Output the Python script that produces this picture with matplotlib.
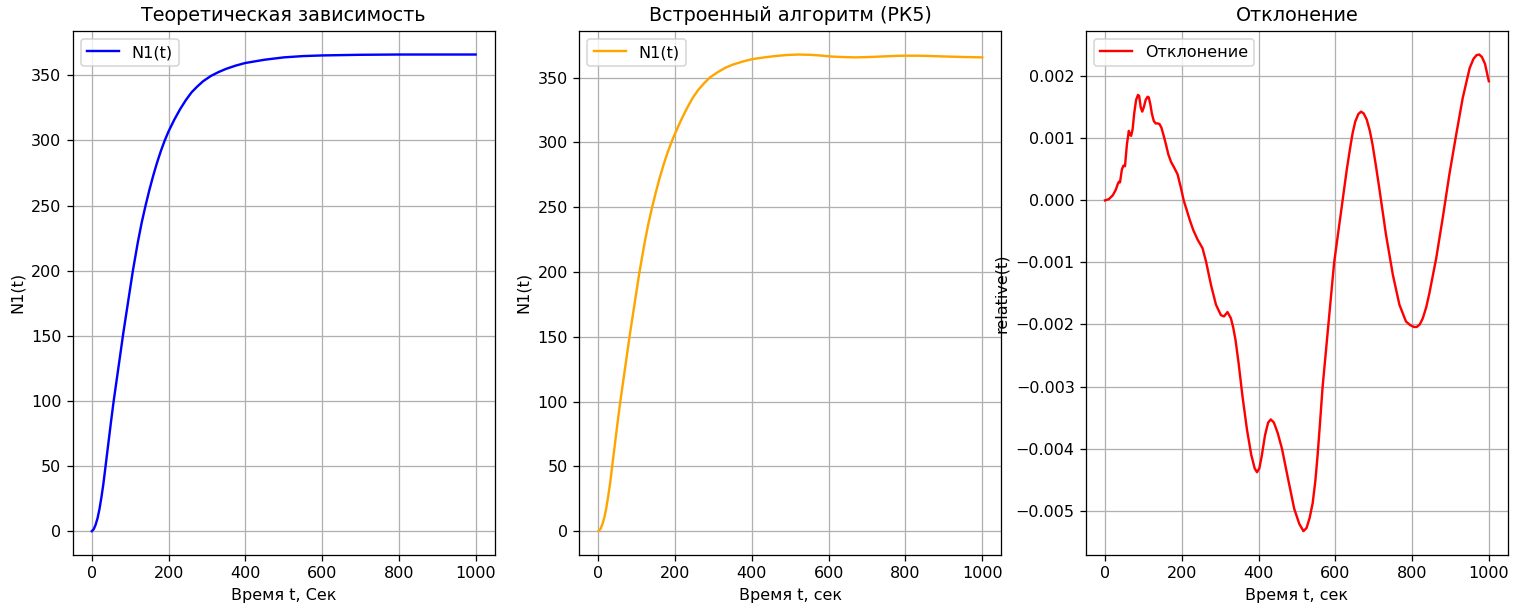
import matplotlib
matplotlib.use('Agg')
import matplotlib.pyplot as plt

# theoretical N1(t)
t_theory = [0, 5, 10, 15, 20, 25, 30, 35, 40, 45, 50, 57, 70, 82, 95, 107, 120, 130, 140,
            150, 160, 170, 180, 190, 200, 215, 230, 245, 260, 275, 290, 310, 330, 350, 375,
            400, 450, 500, 550, 600, 700, 800, 1000]
n_theory = [0, 1.5, 5, 10, 17, 26, 36, 48, 60, 72, 84, 100, 127, 152, 177, 200, 222, 237, 250,
            262, 273, 283, 292, 300, 307, 316, 324, 331, 337, 341.5, 345.5, 349.5, 352.5, 355,
            357.5, 359.5, 362, 363.8, 364.8, 365.3, 365.8, 366, 366]

# RK5 solution, middle panel
t_rk5 = [0, 5, 10, 15, 20, 25, 30, 35, 40, 45, 50, 57, 70, 82, 95, 107, 120, 130, 140, 150,
         160, 170, 180, 190, 200, 215, 230, 245, 260, 275, 290, 310, 330, 350, 375, 400, 430,
         460, 490, 520, 550, 580, 610, 640, 670, 700, 740, 770, 800, 830, 860, 900, 950, 1000]
n_rk5 = [0, 1.5, 5, 10, 17, 26, 36, 48, 60, 72, 84, 100, 127, 152, 177, 200, 222, 237, 250,
         262, 273, 283, 292, 300, 307, 317, 326, 334, 340.5, 345.5, 350, 354, 357.5, 360,
         362.3, 364.2, 365.5, 366.6, 367.4, 367.8, 367.6, 367, 366.2, 365.8, 365.6, 365.8,
         366.3, 366.7, 366.9, 366.9, 366.7, 366.3, 365.9, 365.6]

# relative deviation, right panel
t_dev = [0, 10, 20, 28, 33, 36, 39, 44, 48, 52, 57, 62, 65, 68, 72, 76, 81, 86, 89, 93, 97,
         101, 106, 111, 114, 118, 122, 127, 132, 137, 142, 147, 152, 158, 165, 172, 180, 189,
         197, 205, 213, 221, 230, 241, 254, 263, 276, 289, 302, 310, 319, 328, 334, 340, 348,
         358, 370, 381, 390, 396, 402, 408, 417, 425, 432, 440, 450, 461, 476, 493, 506, 517,
         525, 533, 541, 548, 554, 560, 567, 582, 597, 608, 619, 630, 638, 645, 652, 660, 667,
         674, 682, 690, 697, 706, 715, 732, 750, 767, 784, 795, 805, 812, 820, 828, 837, 845,
         863, 880, 897, 915, 932, 950, 960, 968, 975, 982, 990, 1000]
v_dev = [0, 0.00002, 0.00008, 0.00017, 0.00026, 0.00030, 0.00029, 0.00050, 0.00056, 0.00055,
         0.00090, 0.00112, 0.00106, 0.00104, 0.00115, 0.00140, 0.00162, 0.00170, 0.00168,
         0.00150, 0.00143, 0.00150, 0.00162, 0.00167, 0.00166, 0.00155, 0.00140, 0.00128,
         0.00124, 0.00124, 0.00123, 0.00117, 0.00106, 0.00092, 0.00074, 0.00062, 0.00053,
         0.00042, 0.00022, 0.00000, -0.00016, -0.00032, -0.00048, -0.00063, -0.00077,
         -0.00098, -0.00136, -0.00168, -0.00185, -0.00187, -0.00180, -0.00190, -0.00205,
         -0.00225, -0.00262, -0.00315, -0.00370, -0.00410, -0.00432, -0.00438, -0.00432,
         -0.00413, -0.00378, -0.00358, -0.00353, -0.00358, -0.00375, -0.00400, -0.00446,
         -0.00497, -0.00521, -0.00533, -0.00528, -0.00512, -0.00488, -0.00452, -0.00410,
         -0.00360, -0.00300, -0.00200, -0.00100, -0.00050, 0.00000, 0.00050, 0.00082,
         0.00108, 0.00127, 0.00139, 0.00143, 0.00140, 0.00130, 0.00112, 0.00090, 0.00055,
         0.00018, -0.00055, -0.00120, -0.00168, -0.00195, -0.00201, -0.00204, -0.00204,
         -0.00200, -0.00190, -0.00172, -0.00150, -0.00093, -0.00028, 0.00041, 0.00106,
         0.00165, 0.00213, 0.00228, 0.00234, 0.00235, 0.00231, 0.00220, 0.00192]

fig, axes = plt.subplots(1, 3, figsize=(1513 / 115, 609 / 115), dpi=115)
plt.subplots_adjust(left=0.048, right=0.9967, bottom=0.0887, top=0.9496, wspace=0.2)

ax = axes[0]
ax.plot(t_theory, n_theory, color='blue', label='N1(t)')
ax.set_title('Теоретическая зависимость')
ax.set_xlabel('Время t, Сек')
ax.set_ylabel('N1(t)')
ax.legend(loc='upper left')
ax.grid(True)

ax = axes[1]
ax.plot(t_rk5, n_rk5, color='orange', label='N1(t)')
ax.set_title('Встроенный алгоритм (РК5)')
ax.set_xlabel('Время t, сек')
ax.set_ylabel('N1(t)')
ax.legend(loc='upper left')
ax.grid(True)

ax = axes[2]
ax.plot(t_dev, v_dev, color='red', label='Отклонение')
ax.set_title('Отклонение')
ax.set_xlabel('Время t, сек')
ax.set_ylabel('relative(t)')
ax.legend(loc='upper left')
ax.grid(True)

plt.savefig('out.png', dpi=115)
